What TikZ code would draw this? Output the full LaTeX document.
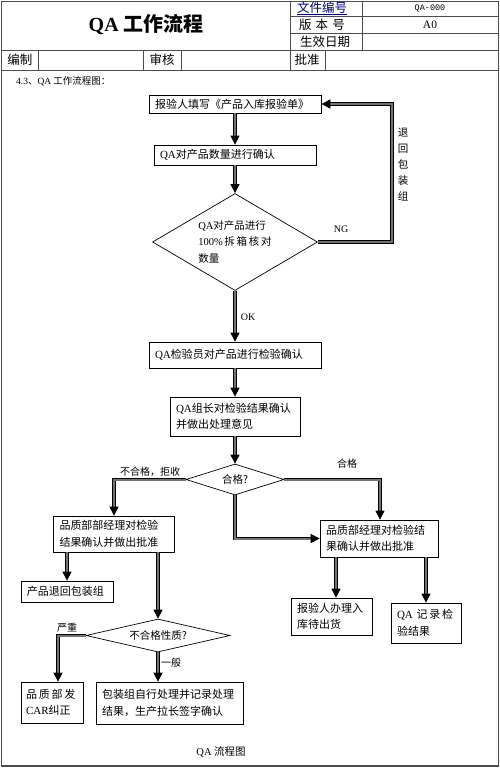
\documentclass[tikz,border=0pt]{standalone}
\usepackage{fontspec}
\setmainfont{Noto Sans CJK SC}
\newfontfamily\lat{Liberation Serif}
\newfontfamily\latmono{Liberation Mono}
\usetikzlibrary{arrows.meta,shapes.geometric,shadows}

\begin{document}
\begin{tikzpicture}[x=1pt,y=1pt,yscale=-1,
  flowbox/.style={draw, line width=0.7pt, fill=white, rectangle, inner xsep=6pt, inner ysep=0pt, align=left,
    font=\fontsize{11}{16.5}\selectfont,
    general shadow={fill=black!85, shadow xshift=0.9pt, shadow yshift=-0.9pt}},
  decision/.style={draw, line width=0.7pt, diamond, inner sep=0pt, align=left, font=\fontsize{10.5}{16.5}\selectfont},
  conn/.style={draw=black, line width=0.7pt, double=black!55, double distance=2pt, line join=miter},
  flowarrow/.style={conn, -{Triangle[length=9pt,width=9pt]}},
  lbl/.style={inner sep=0pt, font=\fontsize{10}{12}\selectfont},
  headtxt/.style={inner sep=0pt, font=\fontsize{12.5}{14}\selectfont},
  gridline/.style={draw=black!70, line width=0.8pt}]
\useasboundingbox (0,0) rectangle (500,769);

%Shape: Page frame
\draw [gridline, line width=1.2pt] (1.5,1.5) rectangle (498.5,766);
%Straight Lines (header grid)
\draw [gridline] (1.5,50) -- (498.5,50) ;
\draw [gridline] (1.5,70) -- (498.5,70) ;
\draw [gridline] (290,1.5) -- (290,70) ;
\draw [gridline] (362,1.5) -- (362,50) ;
\draw [gridline] (290,16.5) -- (498.5,16.5) ;
\draw [gridline] (290,33) -- (498.5,33) ;
\draw [gridline] (38,50) -- (38,70) ;
\draw [gridline] (143,50) -- (143,70) ;
\draw [gridline] (181,50) -- (181,70) ;
\draw [gridline] (325,50) -- (325,70) ;

% Text Node
\node [inner sep=0pt, font=\fontsize{20}{22}\selectfont\bfseries] (title) at (146,25) {{\lat QA} 工作流程};
% Text Node
\node [headtxt, text=blue!45!black] (docno) at (322,8.5) {\underline{文件编号}};
% Text Node
\node [inner sep=0pt, font=\fontsize{8.5}{10}\selectfont\latmono] (docnoval) at (430,8.5) {QA-000};
% Text Node
\node [headtxt] (version) at (322,25) {版\,\,本\,\,号};
% Text Node
\node [inner sep=0pt, font=\fontsize{11.5}{13}\selectfont\lat] (versionval) at (430,25) {A0};
% Text Node
\node [headtxt] (effdate) at (325,42) {生效日期};
% Text Node
\node [headtxt] (author) at (20,60) {编制};
% Text Node
\node [headtxt] (review) at (162,60) {审核};
% Text Node
\node [headtxt] (approve) at (307,60) {批准};
% Text Node
\node [inner sep=0pt, anchor=west, font=\fontsize{9.5}{11}\selectfont] (section) at (16,81) {{\lat 4.3}、{\lat QA} 工作流程图：};

%Shape: Rectangle
\node [flowbox, text width=160pt, minimum height=18pt] (fill) at (235,104) {报验人填写《产品入库报验单》};
%Shape: Rectangle
\node [flowbox, text width=150pt, minimum height=20pt] (count) at (235,155) {{\lat QA}对产品数量进行确认};
%Shape: Diamond
\node [decision, minimum width=165pt, minimum height=97pt, aspect=1.7] (split) at (235,242) {{\lat QA}对产品进行\\{\lat 100\%}\,拆\,箱\,核\,对\\数量};
%Shape: Rectangle
\node [flowbox, text width=160pt, minimum height=26pt] (inspect) at (235,355) {{\lat QA}检验员对产品进行检验确认};
%Shape: Rectangle
\node [flowbox, text width=118pt, minimum height=39pt] (leader) at (235,416.5) {{\lat QA}组长对检验结果确认\\并做出处理意见};
%Shape: Diamond
\node [decision, align=center, minimum width=98pt, minimum height=31pt, aspect=3.2] (pass) at (235,479.5) {合格?};
%Shape: Rectangle
\node [flowbox, text width=109pt, minimum height=36pt] (mgrl) at (114,534) {品质部部经理对检验\\结果确认并做出批准};
%Shape: Rectangle
\node [flowbox, text width=80pt, minimum height=21pt] (back) at (67,591.5) {产品退回包装组};
%Shape: Diamond
\node [decision, align=center, minimum width=144pt, minimum height=33pt, aspect=4.4] (nature) at (158,635.5) {不合格性质?};
%Shape: Rectangle
\node [flowbox, inner xsep=5pt, text width=52pt, minimum height=41pt] (car) at (52,702.5) {品\,质\,部\,发\\{\lat CAR}纠正};
%Shape: Rectangle
\node [flowbox, text width=135pt, minimum height=42pt] (self) at (169.5,703) {包装组自行处理并记录处理\\结果，生产拉长签字确认};
%Shape: Rectangle
\node [flowbox, text width=106pt, minimum height=37pt] (mgrr) at (379,538.5) {品质部经理对检验结\\果确认并做出批准};
%Shape: Rectangle
\node [flowbox, text width=69pt, minimum height=37pt] (store) at (331.5,616.5) {报验人办理入\\库待出货};
%Shape: Rectangle
\node [flowbox, text width=58pt, minimum height=40pt] (record) at (426,623) {{\lat QA}~记\,录\,检\\验结果};

%Straight Lines
\draw [flowarrow] (fill) -- (count) ;
\draw [flowarrow] (count) -- (split) ;
\draw [flowarrow] (split) -- (inspect) ;
\draw [flowarrow] (inspect) -- (leader) ;
\draw [flowarrow] (leader) -- (pass) ;

%Straight Lines (NG, back to start)
\coordinate (ngturn) at (392,242);
\draw [flowarrow] (split.east) -- (ngturn) |- (fill.east) ;

%Straight Lines (reject)
\coordinate (rejturn) at (114,479.5);
\draw [flowarrow] (pass.west) -- (rejturn) -- (rejturn |- mgrl.north) ;
%Straight Lines (pass)
\coordinate (okturn) at (380,479.5);
\draw [flowarrow] (pass.east) -- (okturn) -- (okturn |- mgrr.north) ;
%Straight Lines
\draw [flowarrow] (pass.south) |- (mgrr.west) ;

%Straight Lines
\draw [flowarrow] (back |- mgrl.south) -- (back.north) ;
\draw [flowarrow] (nature |- mgrl.south) -- (nature.north) ;
\coordinate (sevturn) at (58,635.5);
\draw [flowarrow] (nature.west) -- (sevturn) -- (sevturn |- car.north) ;
\draw [flowarrow] (nature.south) -- (nature.south |- self.north) ;

%Straight Lines
\draw [flowarrow] ([xshift=4.5pt]store.north |- mgrr.south) -- ([xshift=4.5pt]store.north) ;
\draw [flowarrow] (record |- mgrr.south) -- (record.north) ;

% Text Node
\node [lbl, font=\fontsize{10}{12}\selectfont\lat] (ng) at (341,229) {NG};
% Text Node
\node [lbl, align=center, font=\fontsize{10.5}{16}\selectfont] (return) at (403,165) {退\\回\\包\\装\\组};
% Text Node
\node [lbl, font=\fontsize{10}{12}\selectfont\lat] (ok) at (248,317) {OK};
% Text Node
\node [lbl] (reject) at (150,472) {不合格，拒收};
% Text Node
\node [lbl] (passed) at (347,464) {合格};
% Text Node
\node [lbl] (severe) at (67,628) {严重};
% Text Node
\node [lbl] (normal) at (171,663) {一般};
% Text Node
\node [lbl, font=\fontsize{10.5}{12}\selectfont] (caption) at (221,752) {{\lat QA} 流程图};

\end{tikzpicture}
\end{document}
